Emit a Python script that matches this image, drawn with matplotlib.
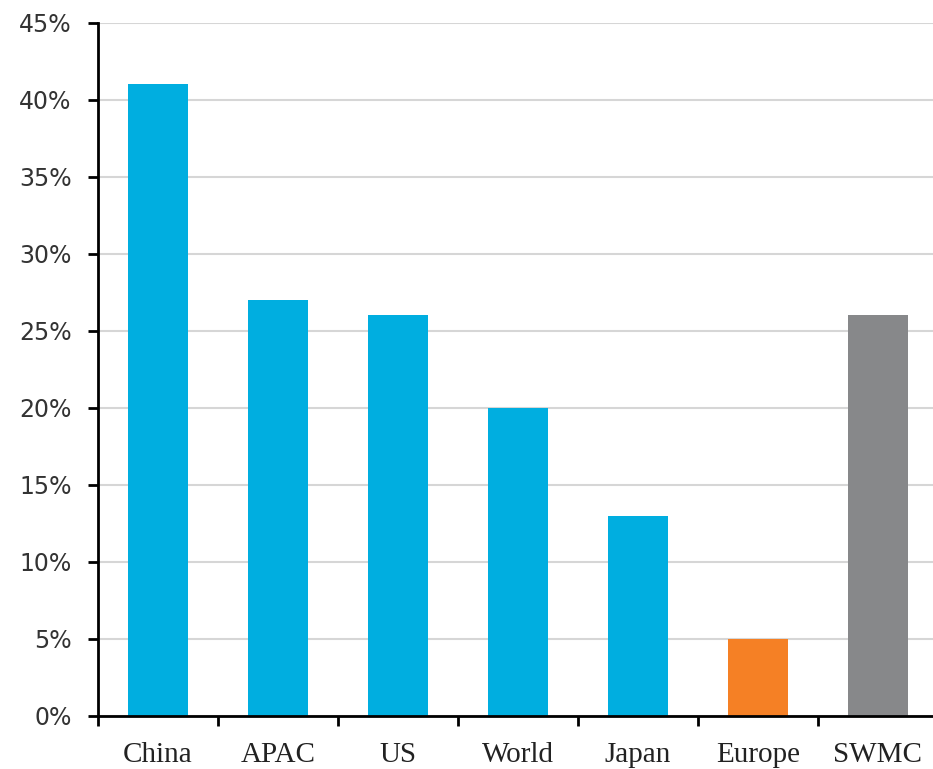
import numpy as np
import matplotlib.pyplot as plt
from matplotlib.ticker import FuncFormatter

regions = ["China", "APAC", "US", "World", "Japan", "Europe", "SWMC"]
share = [41, 27, 26, 20, 13, 5, 26]
bar_colors = ["#00aee0", "#00aee0", "#00aee0", "#00aee0", "#00aee0", "#f58025", "#87888a"]

fig = plt.figure(figsize=(9.33, 7.69), dpi=100)
ax = fig.add_axes([0.105, 0.0693, 0.9003, 0.9012])

x = np.arange(len(regions))
ax.bar(x, share, width=0.5, color=bar_colors, zorder=3)

ax.set_ylim(0, 45)
ax.set_xlim(-0.5, len(regions) - 0.5)
ax.set_yticks(np.arange(0, 46, 5))
ax.yaxis.set_major_formatter(FuncFormatter(lambda v, _: f"{v:.0f}%"))
ax.grid(axis="y", color="#d6d6d6", linewidth=1.5, zorder=0)

# category boundaries get the tick marks, labels sit between them
ax.set_xticks(np.arange(-0.5, len(regions), 1.0))
ax.set_xticklabels([])
ax.set_xticks(x, minor=True)
ax.set_xticklabels(regions, minor=True, family="Liberation Serif", fontsize=21, color="#222222")
ax.tick_params(axis="x", which="major", length=7, width=2, direction="out")
ax.tick_params(axis="x", which="minor", length=0, pad=19)
ax.tick_params(axis="y", length=7, width=2, direction="out", pad=12,
               labelsize=17, labelcolor="#333333")

for side in ["top", "right"]:
    ax.spines[side].set_visible(False)
for side in ["left", "bottom"]:
    ax.spines[side].set_linewidth(2)
    ax.spines[side].set_zorder(4)

fig.savefig("out.png", dpi=100)
